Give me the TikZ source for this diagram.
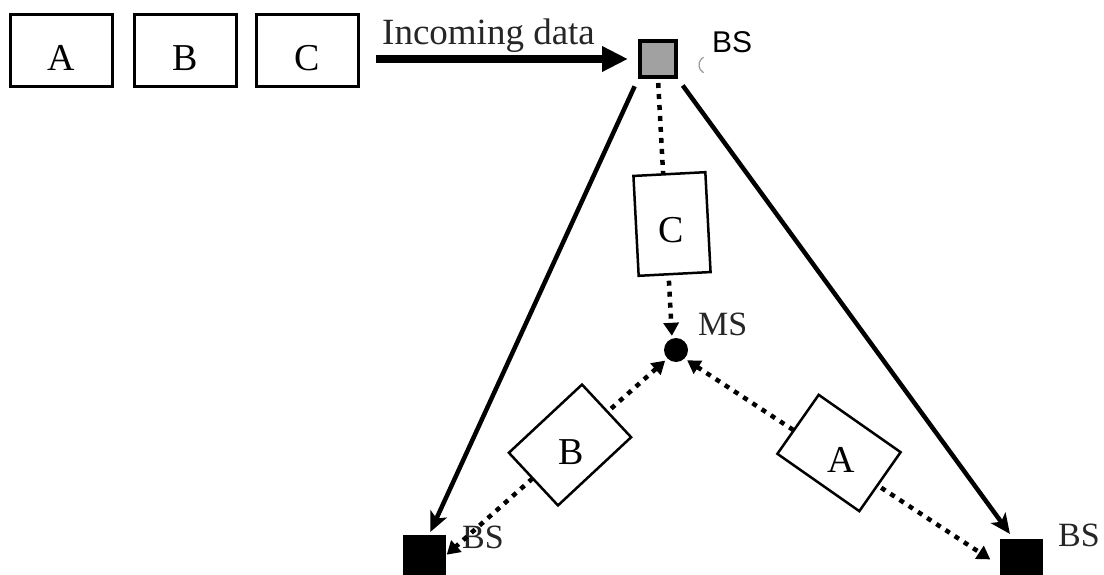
\documentclass[tikz,border=0pt]{standalone}
\usepackage{fontspec}
\setmainfont{Liberation Serif}
\newfontfamily\arialfont{Liberation Sans}
\usetikzlibrary{arrows.meta}

\begin{document}
\begin{tikzpicture}[x=1pt,y=-1pt,
  packet/.style={draw, line width=3, minimum width=102, minimum height=72, inner sep=0,
    text height=41, text depth=0, font=\fontsize{38}{38}\selectfont},
  flybox/.style={draw, line width=2.5, fill=white, minimum width=100, minimum height=72, inner sep=0},
  letter/.style={inner sep=0, font=\fontsize{38}{38}\selectfont},
  tag/.style={inner sep=0, anchor=base west, text=black!85, font=\fontsize{34}{34}\selectfont},
  station/.style={draw, fill=black, minimum size=42, inner sep=0},
  solidlink/.style={line width=4.5, -{Stealth[length=20, width=18, inset=5]}},
  radiolink/.style={line width=4.5, dash pattern=on 5pt off 6pt, {Triangle[length=13, width=15]}-{Triangle[length=13, width=15]}},
  downlink/.style={line width=4.5, dash pattern=on 5pt off 6pt, -{Triangle[length=13, width=15]}}
]
\useasboundingbox (0,0) rectangle (1104,575);

% queued packets
\node[packet] (pa) at (61.5,50.5) {A};
\node[packet] (pb) at (185.5,50.5) {B};
\node[packet] (pc) at (307,50.5) {C};

% serving base station
\node[draw, line width=4, fill=black!37, minimum size=36, inner sep=0] (bs0) at (658,59) {};
\node[inner sep=0, anchor=base west, font=\arialfont\fontsize{30}{30}\selectfont] (bs0lbl) at (712,53) {BS};
\draw[black!40, line width=1.2] (703.5,57.2) arc[start angle=240, end angle=120, radius=9];

% incoming data arrow
\coordinate (inc) at (376,59);
\draw[line width=8, -{Triangle[length=26, width=24]}, shorten >=10] (inc) -- (bs0.west);
\node[inner sep=0, anchor=base west, text=black!85, font=\fontsize{37}{37}\selectfont] (inclbl) at (382,45) {Incoming data};

% mobile station and neighbour base stations
\node[circle, fill=black, minimum size=24, inner sep=0] (ms) at (676,350) {};
\node[tag] (mslbl) at (698,335) {MS};
\node[station] (bsl) at (424,556) {};
\node[tag] (bsllbl) at (462,548) {BS};
\node[station] (bsr) at (1021.5,560) {};
\node[tag] (bsrlbl) at (1058,546) {BS};

% wired links
\draw[solidlink, shorten <=8, shorten >=3] (bs0.south west) -- ([xshift=5]bsl.north);
\draw[solidlink, shorten <=8, shorten >=6] (bs0.south east) -- ([xshift=-8]bsr.north);

% radio links
\draw[downlink, shorten <=4, shorten >=2] (bs0.south) -- ([xshift=-4]ms.north);
\draw[radiolink, shorten <=3, shorten >=2] (ms.south west) -- (bsl.east);
\draw[radiolink, shorten <=3, shorten >=12] (ms.south east) -- ([yshift=-6]bsr.west);

% packets in flight
\node[flybox, rotate=93] (fc) at (672,224) {};
\node[letter] (fclbl) at (671,230) {C};
\node[flybox, rotate=43] (fb) at (570,445) {};
\node[letter] (fblbl) at (571,452) {B};
\node[flybox, rotate=-35] (fa) at (839,453) {};
\node[letter] (falbl) at (841,460) {A};
\end{tikzpicture}
\end{document}
